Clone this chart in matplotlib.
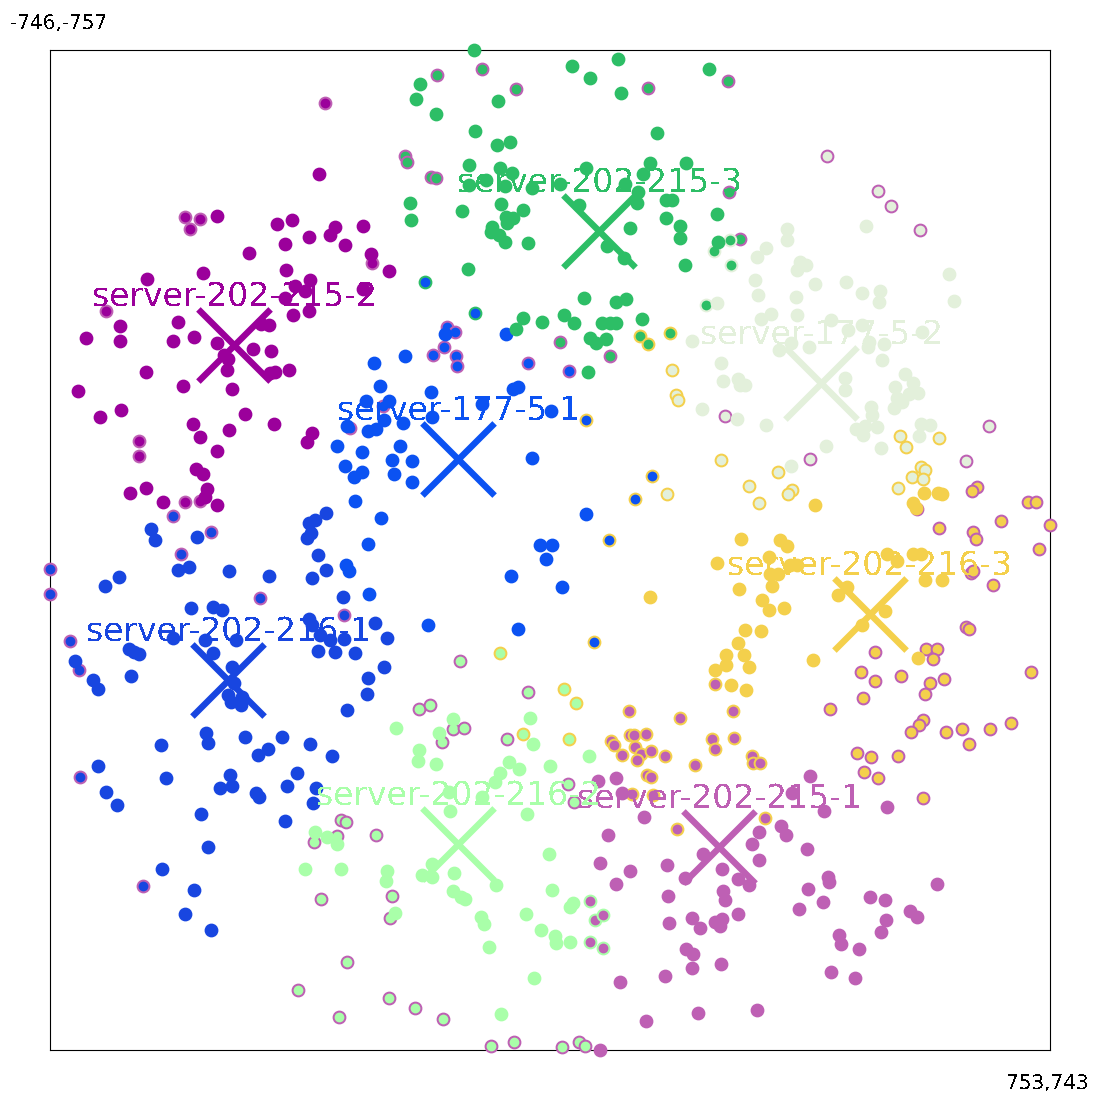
import numpy as np
import matplotlib
matplotlib.use("Agg")
import matplotlib.pyplot as plt
from matplotlib.transforms import Affine2D

plt.rcParams['text.antialiased'] = False
plt.rcParams['text.hinting'] = 'no_hinting'
plt.rcParams['font.family'] = 'DejaVu Sans'

XMIN, YMIN, XMAX, YMAX = -746, -757, 753, 743

PURPLE = '#9B009B'
BRIGHT = '#0B52F2'
BLUE = '#1846E0'
GREEN = '#2DBE66'
PALE = '#E3F0DB'
YELLOW = '#F4D04C'
MAUVE = '#BE60B4'
LIGHT = '#A9FFA9'

names = ['server-202-215-1', 'server-202-215-2', 'server-202-215-3', 'server-177-5-1',
         'server-177-5-2', 'server-202-216-1', 'server-202-216-3', 'server-202-216-2']
name_colors = [MAUVE, PURPLE, GREEN, BRIGHT, PALE, BLUE, YELLOW, LIGHT]
centers_x = [258.5, -469.5, 78.5, -133, 411, -477.5, 483.5, -133]
centers_y = [438, -314.5, -485, -143.5, -257.5, 188, 89, 433.5]

purple_plain = [(-341,-571.5),(-494,-508.5),(-405,-495.5),(-382,-501.5),(-317,-491),(-325,-479),(-276,-492.5),
    (-356,-476),(-393,-465.5),(-303,-464),(-447,-452),(-264,-451),(-237,-425),(-391.5,-427.5),(-516,-422),
    (-599.5,-413),(-355,-412),(-377.5,-403),(-362,-395),(-392,-384.5),(-276,-399),(-356,-365),(-381,-359),
    (-416,-344),(-428.5,-346),(-553.5,-349.5),(-639.5,-343.5),(-691.5,-324.5),(-639.5,-320),(-560.5,-320),
    (-529.5,-326),(-495,-317),(-440.5,-308),(-413,-305),(-484.5,-299),(-478.5,-293),(-479,-277),(-415,-272),
    (-407,-273.5),(-387,-276.5),(-601.5,-273.5),(-546,-252.5),(-472,-248),(-702.5,-245),
    (-670.5,-206.5),(-639,-216.5),(-452,-211.5),(-531,-195.5),(-409,-195.5),(-476,-186.5),(-520.5,-176),
    (-352,-182.5),(-360,-169.5),(-495,-155),(-526.5,-128),(-515,-120.5),(-601.5,-99.5),(-625.5,-92),
    (-510,-98),(-512.5,-86),(-575.5,-78.5),(-495,-74)]
purple_mauve = [(-332,-677),(-543,-506),(-520.5,-503),(-535,-488),(-262,-437),(-661,-365),
    (-612,-170),(-612,-147.5),(-543,-78.5),(-519.5,-80)]

bright_plain = [(-61.5,-331.5),(-213,-297.5),(-173.5,-244.5),(-51,-248),(-43,-251.5),(-153.5,-331),(-97,-226),
    (-172.5,-206.5),(-216,-197.5),(6.5,-215.5),(-221,-163.5),(-203,-140.5),(-202,-109.5),(-22,-145.5),
    (58.5,-60.5),(-10.5,-14),(8,-14.5),(-1.5,6.5),(-54,32.5),(22.5,49),(-178,106),(-43.5,111.5),
    (-259,-287),(-251,-253.5),(-272,-231),(-237,-231),(-244.5,-201.5),(-299.5,-193),(-256,-188),(-268.5,-185),
    (-315,-163.5),(-278,-154.5),(-232.5,-141.5),(-303,-132.5),(-277,-123.5),(-289.5,-116),(-229,-120.5),
    (-287.5,-80),(-248.5,-54.5),(-269,-16.5),(-267,59.5),(-301.5,15.5),(-296.5,25)]
bright_mauve = [(-149.5,-341),(-138.5,-334),(-154.5,-311.5),(-171,-299),(-136,-297.5),(-135,-283.5),(-28.5,-287),
    (33,-275),(-296,-189.5),(-246.5,-223)]
bright_green = [(-183,-409.5),(-108,-363)]
bright_yellow = [(58.5,-202.5),(157.5,-117.5),(132,-83),(93,-21.5),(71,130.5)]

blue_plain = [(-331.5,-63),(-347,-52),(-357,-48),(-353,-32),(-360,-24.5),(-343.5,1),(-331.5,23.5),(-352.5,35.5),
    (-306,63),(-593,-38.5),(-588,-22.5),(-524.5,-26),(-552.5,23),(-536,19),(-476.5,25),(-417,32.5),(-641.5,34),
    (-662.5,47.5),(-533.5,79.5),(-501,78.5),(-487.5,82.5),(-357,97),(-352,105.5),(-257.5,103),(-340,121),
    (-324.5,128),(-304.5,127),(-240,125.5),(-560.5,125),(-513,127.5),(-466,128.5),(-343.5,145),(-318,146.5),
    (-288,148),(-627,142),(-618.5,146.5),(-611,149.5),(-500.5,147.5),(-472,169),(-244.5,169),(-269,185.5),
    (-270,208.5),(-300,233.5),(-624,182.5),(-707.5,160),(-680.5,187.5),(-673.5,202),(-469.5,192),(-477.5,211),
    (-473.5,220.5),(-457.5,213),(-459,226),
    (-511.5,268),(-508,282),(-453,274),(-397,274),(-579,285.5),(-418.5,292),(-433.5,301),(-355,284.5),
    (-322.5,301.5),(-673.5,316.5),(-475.5,331),(-472,346.5),(-489.5,349.5),(-571,335.5),(-375,328),(-389,347.5),
    (-346.5,349.5),(-436,358),(-431,364),(-661.5,356.5),(-644.5,376),(-351,373),(-519,388.5),(-393,400),
    (-508,438.5),(-577.5,472),(-529,503.5),(-543,539.5),(-504,563.5)]
blue_mauve = [(-561,-57.5),(-503.5,-33.5),(-548.5,-1.5),(-744.5,21),(-745.5,58.5),(-430.5,65.5),(-304.5,91),
    (-715.5,130),(-701.5,173.5),(-699.5,334),(-606,497.5)]

green_plain = [(-109,-756.5),(38,-732.5),(107,-743),(65,-715.5),(111,-692),(242.5,-729),(-190,-705.5),(-196,-683),
    (-166.5,-661.5),(-73.5,-680),(-107.5,-635),(165,-632),(-75,-615),(-55,-619.5),(-117,-584),(-71,-580),
    (-52,-572),(58,-579.5),(155,-587),(208.5,-587),(144,-571.5),(-117.5,-554),(-91,-562),(-63.5,-553.5),
    (-22.5,-549.5),(19.5,-555.5),(117,-556),(137,-544),(135,-527),(179,-532.5),(188,-532.5),(-206,-527),
    (-69,-525.5),(48,-524),(-36,-517.5),(-127,-515),(-204,-502.5),(255.5,-511.5),(179,-505.5),(-61,-507),
    (-51,-504.5),(-60,-497),(-82.5,-491),(-83.5,-484.5),(-72.5,-479.5),(-63,-468.5),(-29,-467),(125,-489.5),
    (199.5,-493),(199,-474.5),(90.5,-463.5),(115,-444.5),(257,-469.5),(207,-434),(-119,-428.5),(55,-385.5),
    (119,-383),(104,-378.5),(-36,-355.5),(25.5,-359),(40.5,-347),(-7,-349.5),(-47,-338),(83,-347),(94,-348),
    (104,-348),(143,-353),(65,-324.5),(74,-318),(88,-323),(62,-274.5)]
green_mauve = [(-165,-719.5),(-97.5,-728),(-47,-698),(151,-700.5),(271.5,-710),(-213,-597.5),(-210,-589.5),
    (-173.5,-566.5),(-166,-564.5),(273,-544.5),(289,-473),(19,-318.5),(95,-297.5)]
green_pale = [(275,-472.5),(251,-455.5),(276,-434),(239,-375)]
green_yellow = [(140,-327.5),(152,-315.5),(184,-332)]

pale_plain = [(360.5,-488.5),(360,-472.5),(477.5,-492.5),(329,-459.5),(315.5,-446),(380,-439.5),(388,-434),
    (375,-426.5),(311.5,-411.5),(401.5,-405.5),(448.5,-408.5),(472.5,-392),(498.5,-395.5),(497.5,-378.5),
    (602.5,-420.5),(609.5,-380),(316.5,-389.5),(374,-386),(335.5,-360.5),(321.5,-353),(375,-359.5),
    (425.5,-351.5),(451.5,-336.5),(472.5,-344),(561.5,-333.5),(482.5,-319),(481.5,-312),(505.5,-315.5),
    (365.5,-317),(347.5,-307.5),(392.5,-311),(502.5,-291.5),(536.5,-270.5),(261.5,-287),(264,-260.5),
    (286.5,-264),(289,-254.5),(297.5,-254.5),(447.5,-264.5),(447,-247.5),(521.5,-251.5),(548,-257),
    (556.5,-242),(542.5,-241),(524,-234.5),(531.5,-228.5),(520.5,-220.5),(485.5,-222),(487.5,-210),
    (285.5,-203),(328.5,-194),(463,-188),(476.5,-193.5),(474,-180),(494.5,-191),(560.5,-196),(573.5,-195),
    (557.5,-177.5),(418.5,-162.5),(500.5,-159.5),(366,-132.5),(255,-377),(217.5,-320),(232,-218)]
pale_mauve = [(420,-597.5),(496.5,-545),(516,-523.5),(559.5,-486.5),(267,-207.5),(663,-192.5),(395,-143),
    (627.5,-140)]
pale_yellow = [(529.5,-177.5),(538.5,-161),(587.5,-175.5),(260.5,-141.5),(346.5,-124.5),(561,-131.5),
    (567,-126.5),(546.5,-116),(563.5,-114),(302.5,-103.5),(525.5,-100.5),(368,-97),(362,-91),(318.5,-77),
    (194,-239),(196.5,-232),(180,-90.5),(188,-277.5)]

yellow_plain = [(402.5,-74),(564.5,-92),(585.5,-92),(592.5,-90.5),(548,-77),(553,-70),(291.5,-23),(350,-22.5),
    (359.5,-13),(333.5,3),(509.5,-0.5),(524,9.5),(549,-1),(560,-1),(365,15.5),(375,16),(334,29.5),(346.5,29.5),
    (567,38.5),(592.5,38.5),(450,49),(436.5,61),(337.5,47),(288,52),(322.5,68.5),(333,83.5),(355,80.5),
    (506.5,85),(471.5,105.5),(296.5,113.5),(320.5,114.5),(286,133),(295,150.5),(303,169),(399,158.5),
    (555.5,154.5),(299,203.5),(255.5,12.5),(155,64),(269,151),(268,165.5),(252,172.5),(276.5,196)]
yellow_mauve = [(555,-68),(645,-101),(637.5,-95),(721,-79.5),(733,-79.5),(680.5,-50),(588,-40.5),(754.5,-44),
    (639,-34),(642.5,-24),(738,-8),(635,27),(638.5,24.5),(669,46),(627.5,108.5),(633,112),(491,145.5),
    (567.5,142),(584,142),(578,156.5),(470,176.5),(491.5,189.5),(530,182.5),(573.5,192.5),(595,186.5),
    (567,208.5),(725.5,176.5),(473.5,214.5),(424,232),(563.5,247.5),(557,255.5),(546,266.5),(598.5,265.5),
    (621.5,262),(664.5,261.5),(696,253),(633,284.5),(464,298),(485.5,303.5),(526.5,301.5),(475,326.5),
    (496.5,335.5),(564,365)]

mauve_plain = [(77,339),(104,335.5),(112.5,358),(395,332.5),(368,358),(510,379),(415.5,385),(145.5,394),
    (351,407),(359,421),(318,416.5),(307.5,434.5),(92,421),(390,441.5),(234,448.5),(318,458.5),(80,463),
    (180,466),(263,471.5),(125,475),(206.5,485.5),(286.5,487),(303,495.5),(104,494.5),(421.5,484),(423.5,490.5),
    (391.5,502),(585,494.5),(264.5,505),(267,518),(181.5,512.5),(413.5,521.5),(484.5,514),(507,518.5),(378,532),
    (544,535),(555,544),(218,544.5),(286.5,538.5),(251.5,550.5),(262.5,547),(259.5,556.5),(229.5,560.5),
    (183,553),(508.5,548.5),(501,565.5),(438,570.5),(440.5,584),(468,592),(208,591.5),(219.5,599.5),(218,620.5),
    (261,613.5),(426,625.5),(461.5,634.5),(177,632.5),(110,640.5),(226,688),(315.5,683.5),(148.5,700),(79.5,743)]
mauve_yellow = [(123,235),(199.5,244.5),(279,235),(95.5,279.5),(101,286),(112.5,301),(125,270),(130.5,270),
    (148.5,268.5),(132,289),(141.5,299.5),(155.5,295),(134.5,307.5),(176.5,301.5),(222,316),(247.5,276.5),
    (280,275.5),(252,291),(307,302.5),(309,313),(320,312.5),(150.5,331),(155.5,334),(127.5,359.5),(159.5,361),
    (195.5,411.5),(327,395.5),(252,194)]
mauve_light = [(64.5,519.5),(72.5,548),(84.5,540.5),(64.5,581.5),(84,590.5)]

light_plain = [(-141,246.5),(-25.5,244.5),(-227,259.5),(-162,267.5),(-20.5,284.5),(-191.5,293.5),(-193.5,309.5),
    (-166,313.5),(63.5,302.5),(4,316.5),(-57,310.5),(-42,322),(-70,327.5),(-78.5,341.5),(-147,355.5),(-97,364),
    (-146,384.5),(-30,389.5),(-347,416.5),(-329.5,423.5),(-314,434.5),(-362,472),(-308,472),(-239.5,474.5),
    (-241.5,489),(-172,464),(-188,481),(-172,484),(-139,478),(-77,495),(-141,505),(-128.5,513),(-122.5,517),
    (3,449.5),(8,503.5),(39.5,523),(35,529),(-31,539.5),(-98.5,543),(-94.5,554),(-9,562.5),(12.5,572.5),
    (14,583),(34.5,581.5),(-87,589),(-228,538),(-19.5,635.5),(-69,688.5)]
light_mauve = [(-192,232),(-175,225.5),(-141,262),(-125,260.5),(-158,280.5),(-60,277),(-256.5,421),(-308,398),
    (-301,400.5),(-314.5,421.5),(-349.5,431),(31.5,343.5),(40.5,371),(-338.5,517),(-232.5,511.5),(-236,545),
    (-300,610.5),(-373.5,652.5),(-236.5,664.5),(-198,680.5),(-311,694),(-156,697),(-84,736.5),(-49,730.5),
    (22.5,739),(48,731),(56.5,736.5),(-29,205.5),(-130.5,160)]
light_yellow = [(-70.5,148),(25.5,202),(43.5,223),(-36,269),(33,277)]

edged = [(purple_mauve, PURPLE, MAUVE), (bright_mauve, BRIGHT, MAUVE), (bright_green, BRIGHT, GREEN),
         (bright_yellow, BRIGHT, YELLOW), (blue_mauve, BLUE, MAUVE), (green_mauve, GREEN, MAUVE),
         (green_yellow, GREEN, YELLOW), (pale_mauve, PALE, MAUVE), (pale_yellow, PALE, YELLOW),
         (yellow_mauve, YELLOW, MAUVE), (mauve_yellow, MAUVE, YELLOW), (light_mauve, LIGHT, MAUVE),
         (light_yellow, LIGHT, YELLOW), (green_pale, GREEN, PALE), (mauve_light, MAUVE, LIGHT)]
plain = [(purple_plain, PURPLE), (bright_plain, BRIGHT), (blue_plain, BLUE), (green_plain, GREEN),
         (pale_plain, PALE), (yellow_plain, YELLOW), (mauve_plain, MAUVE), (light_plain, LIGHT)]

fig = plt.figure(figsize=(11, 11), dpi=100)
ax = fig.add_axes([50 / 1100, 50 / 1100, 1000 / 1100, 1000 / 1100])
ax.set_xlim(XMIN, XMAX)
ax.set_ylim(YMAX, YMIN)
ax.set_xticks([])
ax.set_yticks([])
for s in ax.spines.values():
    s.set_linewidth(0.8)
    s.set_color('black')
    s.set_zorder(1)

# half-pixel nudge so the rasterised marks land on the same pixels as the reference
nudge = ax.transData + Affine2D().translate(-0.7, 0)

S = 72
LW = 1.44
for pts, fc, ec in edged:
    a = np.array(pts)
    ax.scatter(a[:, 0], a[:, 1], s=S, c=fc, edgecolors=ec, linewidths=LW, transform=nudge,
               antialiased=False, clip_on=False, zorder=2)
for pts, fc in plain:
    a = np.array(pts)
    ax.scatter(a[:, 0], a[:, 1], s=S, c=fc, edgecolors=fc, linewidths=LW, transform=nudge,
               antialiased=False, clip_on=False, zorder=3)

for n, col, cx, cy in zip(names, name_colors, centers_x, centers_y):
    ax.scatter([cx], [cy], marker='x', s=2700, c=col, linewidths=4.6, transform=nudge,
               antialiased=False, clip_on=False, zorder=4)
for n, col, cx, cy in zip(names, name_colors, centers_x, centers_y):
    ax.annotate(n, (cx, cy), xytext=(0, 28.4), textcoords='offset points', ha='center',
                va='baseline', fontsize=23.76, color=col, zorder=5, annotation_clip=False)

fig.text(10 / 1100, 1 - 30 / 1100, f'{XMIN},{YMIN}', fontsize=14.4, ha='left', va='baseline', color='black')
fig.text(1089 / 1100, 1 - 1090 / 1100, f'{XMAX},{YMAX}', fontsize=14.4, ha='right', va='baseline', color='black')

fig.savefig('out.png', dpi=100, facecolor='white')
